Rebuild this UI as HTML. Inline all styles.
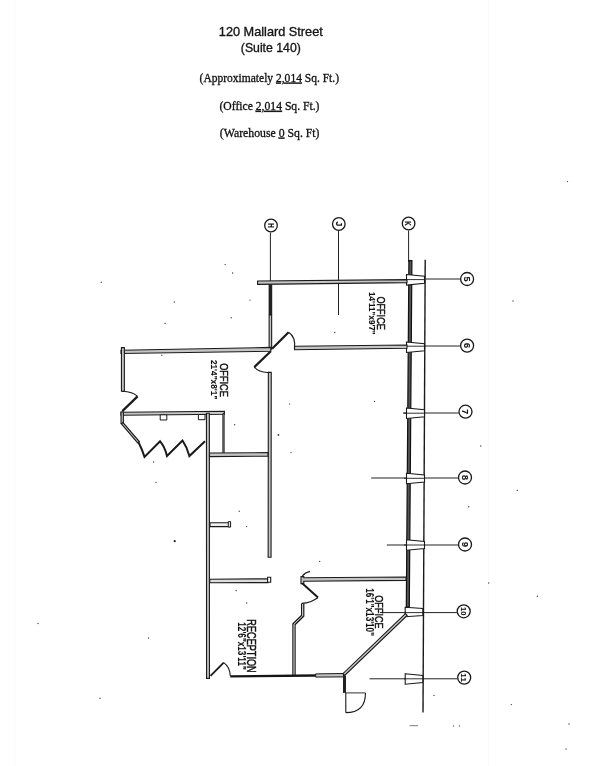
<!DOCTYPE html>
<html><head><meta charset="utf-8"><style>
html,body{margin:0;padding:0;background:#fff;}
body{width:608px;height:766px;overflow:hidden;position:relative;}
svg{position:absolute;left:0;top:0;filter:grayscale(100%);}
text{font-family:"Liberation Sans",sans-serif;fill:#111;}
.serif{font-family:"Liberation Serif",serif;}
</style></head><body>
<svg width="608" height="766" viewBox="0 0 608 766">
<rect width="608" height="766" fill="#fff"/>
<line x1="14.8" y1="0" x2="14.8" y2="766" stroke="#f8f8f8" stroke-width="1"/>
<line x1="488.6" y1="0" x2="488.6" y2="766" stroke="#f9f9f9" stroke-width="1"/>
<text x="270.8" y="36.1" font-size="12.7" text-anchor="middle" textLength="104" lengthAdjust="spacingAndGlyphs" fill="#1a1a1a" stroke="#1a1a1a" stroke-width="0.35">120 Mallard Street</text>
<text x="270.8" y="52" font-size="12.7" text-anchor="middle" textLength="60" lengthAdjust="spacingAndGlyphs" fill="#1a1a1a" stroke="#1a1a1a" stroke-width="0.35">(Suite 140)</text>
<text class="serif" stroke="#111" stroke-width="0.3" x="269.3" y="81.6" font-size="11.6" text-anchor="middle" textLength="139.5" lengthAdjust="spacingAndGlyphs">(Approximately <tspan text-decoration="underline">2,014</tspan> Sq. Ft.)</text>
<text class="serif" stroke="#111" stroke-width="0.3" x="269.5" y="109.8" font-size="11.6" text-anchor="middle" textLength="100" lengthAdjust="spacingAndGlyphs">(Office <tspan text-decoration="underline">2,014</tspan> Sq. Ft.)</text>
<text class="serif" stroke="#111" stroke-width="0.3" x="269.7" y="136.6" font-size="11.6" text-anchor="middle" textLength="99.7" lengthAdjust="spacingAndGlyphs">(Warehouse <tspan text-decoration="underline">0</tspan> Sq. Ft)</text>
<line x1="270.4" y1="232.5" x2="270.4" y2="281" stroke="#222" stroke-width="1.0" stroke-linecap="butt"/>
<circle cx="271" cy="225.5" r="6.3" fill="#fff" stroke="#1a1a1a" stroke-width="1.3"/>
<text transform="translate(267.7,225.5) rotate(90)" font-size="9.2" font-weight="bold" text-anchor="middle" textLength="4.8" lengthAdjust="spacingAndGlyphs" stroke="#111" stroke-width="0.1">H</text>
<line x1="338.5" y1="231" x2="338.5" y2="315" stroke="#222" stroke-width="1.0" stroke-linecap="butt"/>
<circle cx="338.8" cy="224" r="6.3" fill="#fff" stroke="#1a1a1a" stroke-width="1.3"/>
<text transform="translate(335.5,224) rotate(90)" font-size="9.2" font-weight="bold" text-anchor="middle" textLength="4.8" lengthAdjust="spacingAndGlyphs" stroke="#111" stroke-width="0.1">J</text>
<line x1="408.6" y1="230.5" x2="408.6" y2="262" stroke="#222" stroke-width="1.0" stroke-linecap="butt"/>
<circle cx="408.6" cy="223.5" r="6.3" fill="#fff" stroke="#1a1a1a" stroke-width="1.3"/>
<text transform="translate(405.3,223.5) rotate(90)" font-size="9.2" font-weight="bold" text-anchor="middle" textLength="4.8" lengthAdjust="spacingAndGlyphs" stroke="#111" stroke-width="0.1">K</text>
<line x1="425.9" y1="279" x2="460.3" y2="279" stroke="#222" stroke-width="1.0" stroke-linecap="butt"/>
<circle cx="467.1" cy="279" r="6.5" fill="#fff" stroke="#1a1a1a" stroke-width="1.3"/>
<text transform="translate(464.0,279) rotate(90)" font-size="8.6" font-weight="bold" text-anchor="middle" textLength="5.0" lengthAdjust="spacingAndGlyphs" stroke="#111" stroke-width="0.1">5</text>
<line x1="404" y1="346" x2="460.3" y2="346" stroke="#222" stroke-width="1.0" stroke-linecap="butt"/>
<circle cx="467.1" cy="345.6" r="6.5" fill="#fff" stroke="#1a1a1a" stroke-width="1.3"/>
<text transform="translate(464.0,345.6) rotate(90)" font-size="8.6" font-weight="bold" text-anchor="middle" textLength="5.0" lengthAdjust="spacingAndGlyphs" stroke="#111" stroke-width="0.1">6</text>
<line x1="403.3" y1="413" x2="458.7" y2="413" stroke="#222" stroke-width="1.0" stroke-linecap="butt"/>
<circle cx="465.5" cy="411.7" r="6.5" fill="#fff" stroke="#1a1a1a" stroke-width="1.3"/>
<text transform="translate(462.4,411.7) rotate(90)" font-size="8.6" font-weight="bold" text-anchor="middle" textLength="5.0" lengthAdjust="spacingAndGlyphs" stroke="#111" stroke-width="0.1">7</text>
<line x1="371.2" y1="478" x2="458.2" y2="478" stroke="#222" stroke-width="1.0" stroke-linecap="butt"/>
<circle cx="465" cy="477.5" r="6.5" fill="#fff" stroke="#1a1a1a" stroke-width="1.3"/>
<text transform="translate(461.9,477.5) rotate(90)" font-size="8.6" font-weight="bold" text-anchor="middle" textLength="5.0" lengthAdjust="spacingAndGlyphs" stroke="#111" stroke-width="0.1">8</text>
<line x1="386.8" y1="545" x2="458.2" y2="545" stroke="#222" stroke-width="1.0" stroke-linecap="butt"/>
<circle cx="465" cy="544.5" r="6.5" fill="#fff" stroke="#1a1a1a" stroke-width="1.3"/>
<text transform="translate(461.9,544.5) rotate(90)" font-size="8.6" font-weight="bold" text-anchor="middle" textLength="5.0" lengthAdjust="spacingAndGlyphs" stroke="#111" stroke-width="0.1">9</text>
<line x1="380" y1="612.6" x2="456.9" y2="612.6" stroke="#222" stroke-width="1.0" stroke-linecap="butt"/>
<circle cx="463.7" cy="611.3" r="6.5" fill="#fff" stroke="#1a1a1a" stroke-width="1.3"/>
<text transform="translate(460.59999999999997,611.3) rotate(90)" font-size="7.4" font-weight="bold" text-anchor="middle" textLength="8.6" lengthAdjust="spacingAndGlyphs" stroke="#111" stroke-width="0.1">10</text>
<line x1="369.5" y1="678.8" x2="457.4" y2="678.8" stroke="#222" stroke-width="1.0" stroke-linecap="butt"/>
<circle cx="464.2" cy="677.6" r="6.5" fill="#fff" stroke="#1a1a1a" stroke-width="1.3"/>
<text transform="translate(461.09999999999997,677.6) rotate(90)" font-size="7.4" font-weight="bold" text-anchor="middle" textLength="8.6" lengthAdjust="spacingAndGlyphs" stroke="#111" stroke-width="0.1">11</text>
<path d="M408.9,260.6 L411.9,260.6 L409.3,607 L406.3,607 Z" fill="#555" stroke="#111" stroke-width="1.2" stroke-linejoin="miter"/>
<line x1="425.2" y1="259.7" x2="423.0" y2="712.6" stroke="#1a1a1a" stroke-width="1.4" stroke-linecap="butt"/>
<path d="M406.5,274.55 L424.5,276.3 L424.5,283.3 L406.5,285.05 Z" fill="#fff" stroke="#1a1a1a" stroke-width="1.1" stroke-linejoin="miter"/>
<path d="M406.5,341.95 L424.5,343.7 L424.5,350.7 L406.5,352.45 Z" fill="#fff" stroke="#1a1a1a" stroke-width="1.1" stroke-linejoin="miter"/>
<path d="M406.5,407.95 L424.5,409.7 L424.5,416.7 L406.5,418.45 Z" fill="#fff" stroke="#1a1a1a" stroke-width="1.1" stroke-linejoin="miter"/>
<path d="M406.5,473.25 L424.5,475.0 L424.5,482.0 L406.5,483.75 Z" fill="#fff" stroke="#1a1a1a" stroke-width="1.1" stroke-linejoin="miter"/>
<path d="M406.5,539.75 L424.5,541.5 L424.5,548.5 L406.5,550.25 Z" fill="#fff" stroke="#1a1a1a" stroke-width="1.1" stroke-linejoin="miter"/>
<path d="M405.2,607.25 L422.8,608.5 L422.8,615.5 L405.2,616.75 Z" fill="#fff" stroke="#1a1a1a" stroke-width="1.1" stroke-linejoin="miter"/>
<path d="M405.2,673.75 L422.8,675.5 L422.8,682.5 L405.2,684.25 Z" fill="#fff" stroke="#1a1a1a" stroke-width="1.1" stroke-linejoin="miter"/>
<line x1="404" y1="279.6" x2="425" y2="279.6" stroke="#1a1a1a" stroke-width="0.9" stroke-linecap="butt"/>
<line x1="404" y1="346.2" x2="425" y2="346.2" stroke="#1a1a1a" stroke-width="0.9" stroke-linecap="butt"/>
<line x1="403.3" y1="413.2" x2="424.5" y2="413.2" stroke="#1a1a1a" stroke-width="0.9" stroke-linecap="butt"/>
<line x1="404" y1="478.3" x2="424.5" y2="478.3" stroke="#1a1a1a" stroke-width="0.9" stroke-linecap="butt"/>
<line x1="404" y1="545" x2="424.5" y2="545" stroke="#1a1a1a" stroke-width="0.9" stroke-linecap="butt"/>
<line x1="404" y1="612.6" x2="423" y2="612.6" stroke="#1a1a1a" stroke-width="0.9" stroke-linecap="butt"/>
<line x1="404" y1="678.8" x2="423" y2="678.8" stroke="#1a1a1a" stroke-width="0.9" stroke-linecap="butt"/>
<path d="M257.6,281.0 L407,279.6 L407,282.6 L257.6,284.4 Z" fill="#c4c4c4" stroke="#1a1a1a" stroke-width="1.1" stroke-linejoin="miter"/>
<path d="M268.6,284.4 L272.2,284.4 L272.2,315 L268.6,315 Z" fill="#222" stroke="none" stroke-width="1.0" stroke-linejoin="miter"/>
<path d="M269.15,315.0 L269.15,349.3 L271.65,349.3 L271.65,315.0 Z" fill="#c4c4c4" stroke="#1a1a1a" stroke-width="1.1" stroke-linejoin="miter"/>
<path d="M294.5,346.3 L407,345.0 L407,348.3 L294.5,349.8 Z" fill="#c4c4c4" stroke="#1a1a1a" stroke-width="1.1" stroke-linejoin="miter"/>
<path d="M121,350.3 L270.8,347.4 L270.8,351.2 L121,353.5 Z" fill="#c4c4c4" stroke="#1a1a1a" stroke-width="1.1" stroke-linejoin="miter"/>
<path d="M121.45,347.6 L121.45,391.2 L124.35,391.2 L124.35,347.6 Z" fill="#c4c4c4" stroke="#1a1a1a" stroke-width="1.1" stroke-linejoin="miter"/>
<path d="M121,412.2 L224.4,411.3 L224.4,414.3 L121,415.3 Z" fill="#c4c4c4" stroke="#1a1a1a" stroke-width="1.1" stroke-linejoin="miter"/>
<path d="M160.2,414.8 L166.8,414.8 L166.8,420 L160.2,420 Z" fill="#fff" stroke="#1a1a1a" stroke-width="1.0" stroke-linejoin="miter"/>
<path d="M198.4,414.5 L205,414.5 L205,419.7 L198.4,419.7 Z" fill="#fff" stroke="#1a1a1a" stroke-width="1.0" stroke-linejoin="miter"/>
<path d="M121.05,412.0 L121.05,423.5 L123.35,423.5 L123.35,412.0 Z" fill="#c4c4c4" stroke="#1a1a1a" stroke-width="1.1" stroke-linejoin="miter"/>
<path d="M121.4,423.88 L137.7,442.88 L139.3,441.52 L123.0,422.52 Z" fill="#c4c4c4" stroke="#1a1a1a" stroke-width="1.1" stroke-linejoin="miter"/>
<path d="M268.35,372.4 L268.15,557.3 L271.05,557.3 L271.25,372.4 Z" fill="#c4c4c4" stroke="#1a1a1a" stroke-width="1.1" stroke-linejoin="miter"/>
<path d="M206.45,413.2 L206.55,678.4 L209.45,678.4 L209.35,413.2 Z" fill="#c4c4c4" stroke="#1a1a1a" stroke-width="1.1" stroke-linejoin="miter"/>
<path d="M222.9,413.5 L222.9,454.5 L224.1,454.5 L224.1,413.5 Z" fill="#c4c4c4" stroke="#1a1a1a" stroke-width="1.0" stroke-linejoin="miter"/>
<path d="M209.5,453.0 L268,452.6 L268,456.2 L209.5,456.6 Z" fill="#c4c4c4" stroke="#1a1a1a" stroke-width="1.1" stroke-linejoin="miter"/>
<path d="M210,522.8 L230.2,522.8 L230.2,526.6 L210,526.6 Z" fill="#eee" stroke="#1a1a1a" stroke-width="1.1" stroke-linejoin="miter"/>
<path d="M228.3,521.6 L230.6,521.6 L230.6,527.0 L228.3,527.0 Z" fill="#eee" stroke="#1a1a1a" stroke-width="1.0" stroke-linejoin="miter"/>
<path d="M209.8,579.2 L268,578.8 L268,582.6 L209.8,582.8 Z" fill="#ddd" stroke="#1a1a1a" stroke-width="1.1" stroke-linejoin="miter"/>
<path d="M267.6,577.3 L270.7,577.3 L270.7,582.2 L267.6,582.2 Z" fill="#fff" stroke="#1a1a1a" stroke-width="1.1" stroke-linejoin="miter"/>
<path d="M301,576.6 L303.8,576.6 L303.8,577.8 L406,577.0 L406,580.4 L303.8,581.2 L303.8,583.6 L301,583.6 Z" fill="#c4c4c4" stroke="#1a1a1a" stroke-width="1.1" stroke-linejoin="miter"/>
<path d="M302.7,603.4 L302.7,615.8 L294.0,624.2 L294.0,676" fill="none" stroke="#1a1a1a" stroke-width="3.4" stroke-linejoin="miter"/>
<path d="M302.7,603.6 L302.7,615.8 L294.0,624.2 L294.0,676" fill="none" stroke="#eee" stroke-width="1.0" stroke-linejoin="miter"/>
<line x1="230.2" y1="676.4" x2="315.7" y2="675.5" stroke="#151515" stroke-width="2.4" stroke-linecap="butt"/>
<path d="M315.7,673.9 L343.5,673.5 L343.5,676.9 L315.7,677.1 Z" fill="#c4c4c4" stroke="#1a1a1a" stroke-width="1.0" stroke-linejoin="miter"/>
<path d="M405.43,613.6 L342.93,673.7 L344.67,675.5 L407.17,615.4 Z" fill="#c4c4c4" stroke="#1a1a1a" stroke-width="1.1" stroke-linejoin="miter"/>
<path d="M343.0,675.5 L346.0,675.5 L346.0,692.9 L343.0,692.9 Z" fill="#222" stroke="none" stroke-width="1.0" stroke-linejoin="miter"/>
<line x1="272.1" y1="348.7" x2="288.6" y2="332.2" stroke="#1a1a1a" stroke-width="2.2" stroke-linecap="butt"/>
<path d="M288.6,332.2 Q296,337 294.5,348.7" fill="none" stroke="#1a1a1a" stroke-width="1.1"/>
<line x1="270.8" y1="351.3" x2="254.3" y2="367.1" stroke="#1a1a1a" stroke-width="2.2" stroke-linecap="butt"/>
<path d="M254.3,367.1 Q259,372.8 268.8,372.4" fill="none" stroke="#1a1a1a" stroke-width="1.1"/>
<path d="M122.1,391.2 Q133,391.5 137.6,396.4" fill="none" stroke="#1a1a1a" stroke-width="1.1"/>
<line x1="137.6" y1="396.4" x2="122.3" y2="411.1" stroke="#1a1a1a" stroke-width="2.2" stroke-linecap="butt"/>
<line x1="210.5" y1="675.8" x2="223.7" y2="662.6" stroke="#1a1a1a" stroke-width="1.8" stroke-linecap="butt"/>
<path d="M223.7,662.6 Q230,667 230.2,675.8" fill="none" stroke="#1a1a1a" stroke-width="1.1"/>
<line x1="302.2" y1="583.2" x2="318" y2="597.5" stroke="#1a1a1a" stroke-width="2.0" stroke-linecap="butt"/>
<path d="M318,597.5 Q311,603 301.7,603.4" fill="none" stroke="#1a1a1a" stroke-width="1.1"/>
<path d="M302.5,575.7 Q305,572.5 310,571.4" fill="none" stroke="#1a1a1a" stroke-width="1.4"/>
<line x1="345.8" y1="692.9" x2="345.8" y2="712.6" stroke="#1a1a1a" stroke-width="1.1" stroke-linecap="butt"/>
<line x1="345.8" y1="692.9" x2="365.5" y2="692.9" stroke="#1a1a1a" stroke-width="0.9" stroke-linecap="butt"/>
<path d="M345.8,712.6 Q365.5,712.6 365.5,692.9" fill="none" stroke="#1a1a1a" stroke-width="1.1"/>
<path d="M138.5,442.2 Q142,449 144.5,456.9 L160.1,441.3 Q165,447 167,456 L182.5,440.5 Q187,447 189.4,456 L205,441.3" fill="none" stroke="#1a1a1a" stroke-width="2.0"/>
<text transform="translate(377.0,313.1) rotate(90)" font-size="11.7" font-weight="normal" text-anchor="middle" textLength="33.4" lengthAdjust="spacingAndGlyphs" stroke="#111" stroke-width="0.45">OFFICE</text>
<text transform="translate(368.8,313.4) rotate(90)" font-size="9.4" font-weight="bold" text-anchor="middle" textLength="42.6" lengthAdjust="spacingAndGlyphs" stroke="#111" stroke-width="0.1">14'11"x9'7"</text>
<text transform="translate(220.4,380.0) rotate(90)" font-size="10.8" font-weight="normal" text-anchor="middle" textLength="33.5" lengthAdjust="spacingAndGlyphs" stroke="#111" stroke-width="0.45">OFFICE</text>
<text transform="translate(211.4,379.6) rotate(90)" font-size="9.7" font-weight="bold" text-anchor="middle" textLength="39.4" lengthAdjust="spacingAndGlyphs" stroke="#111" stroke-width="0.1">21'4"x8'1"</text>
<text transform="translate(374.9,611.9) rotate(90)" font-size="11.4" font-weight="normal" text-anchor="middle" textLength="33.2" lengthAdjust="spacingAndGlyphs" stroke="#111" stroke-width="0.45">OFFICE</text>
<text transform="translate(366.2,612.1) rotate(90)" font-size="10.4" font-weight="bold" text-anchor="middle" textLength="47.8" lengthAdjust="spacingAndGlyphs" stroke="#111" stroke-width="0.1">16'1"x13'10"</text>
<text transform="translate(247.4,646.0) rotate(90)" font-size="12.0" font-weight="normal" text-anchor="middle" textLength="53.4" lengthAdjust="spacingAndGlyphs" stroke="#111" stroke-width="0.45">RECEPTION</text>
<text transform="translate(238.2,646.1) rotate(90)" font-size="10.1" font-weight="bold" text-anchor="middle" textLength="47.6" lengthAdjust="spacingAndGlyphs" stroke="#111" stroke-width="0.1">12'6"x13'11"</text>
<circle cx="174.7" cy="541.2" r="1.1" fill="#222"/>
<circle cx="278.4" cy="434.9" r="0.9" fill="#333"/>
<line x1="409.6" y1="725.7" x2="418" y2="725.7" stroke="#555" stroke-width="0.8" stroke-linecap="butt"/>
<circle cx="289.6" cy="404.1" r="0.7" fill="#444"/>
<circle cx="374.5" cy="401.4" r="0.7" fill="#444"/>
<circle cx="291" cy="452.6" r="0.7" fill="#444"/>
<circle cx="319.7" cy="561.4" r="0.7" fill="#444"/>
<circle cx="174.3" cy="302" r="0.7" fill="#444"/>
<circle cx="165.1" cy="323.4" r="0.7" fill="#444"/>
<circle cx="101.3" cy="282.2" r="0.7" fill="#444"/>
<circle cx="567.5" cy="181.6" r="0.7" fill="#444"/>
<circle cx="334.8" cy="332.5" r="0.7" fill="#444"/>
<circle cx="161.8" cy="355.2" r="0.7" fill="#444"/>
<circle cx="225.1" cy="264.6" r="0.7" fill="#444"/>
<circle cx="232.6" cy="273" r="0.7" fill="#444"/>
<circle cx="250" cy="300.1" r="0.7" fill="#444"/>
<circle cx="231.2" cy="317.7" r="0.7" fill="#444"/>
<circle cx="517.3" cy="490.4" r="0.7" fill="#444"/>
<circle cx="537.4" cy="596.3" r="0.7" fill="#444"/>
<circle cx="511.3" cy="704.6" r="0.7" fill="#444"/>
<circle cx="566" cy="749" r="0.7" fill="#444"/>
<circle cx="569" cy="724" r="0.7" fill="#444"/>
<circle cx="480.8" cy="446" r="0.7" fill="#444"/>
<circle cx="488.7" cy="583" r="0.7" fill="#444"/>
<circle cx="468.7" cy="506.8" r="0.7" fill="#444"/>
<circle cx="453.5" cy="725.9" r="0.7" fill="#444"/>
<circle cx="459.5" cy="725.9" r="0.7" fill="#444"/>
<circle cx="513" cy="301" r="0.7" fill="#444"/>
<circle cx="38" cy="623.5" r="0.7" fill="#444"/>
<circle cx="148.5" cy="638" r="0.7" fill="#444"/>
<circle cx="100" cy="698.2" r="0.7" fill="#444"/>
<circle cx="434" cy="695.4" r="0.7" fill="#444"/>
<circle cx="156" cy="482.4" r="0.7" fill="#444"/>
<circle cx="239.2" cy="511.3" r="0.7" fill="#444"/>
<circle cx="246.7" cy="526.6" r="0.7" fill="#444"/>
<circle cx="246.7" cy="603" r="0.7" fill="#444"/>
<circle cx="153.6" cy="462" r="0.7" fill="#444"/>
<circle cx="234.6" cy="424.8" r="0.7" fill="#444"/>
<circle cx="236.2" cy="590.5" r="0.7" fill="#444"/>
</svg>
</body></html>
